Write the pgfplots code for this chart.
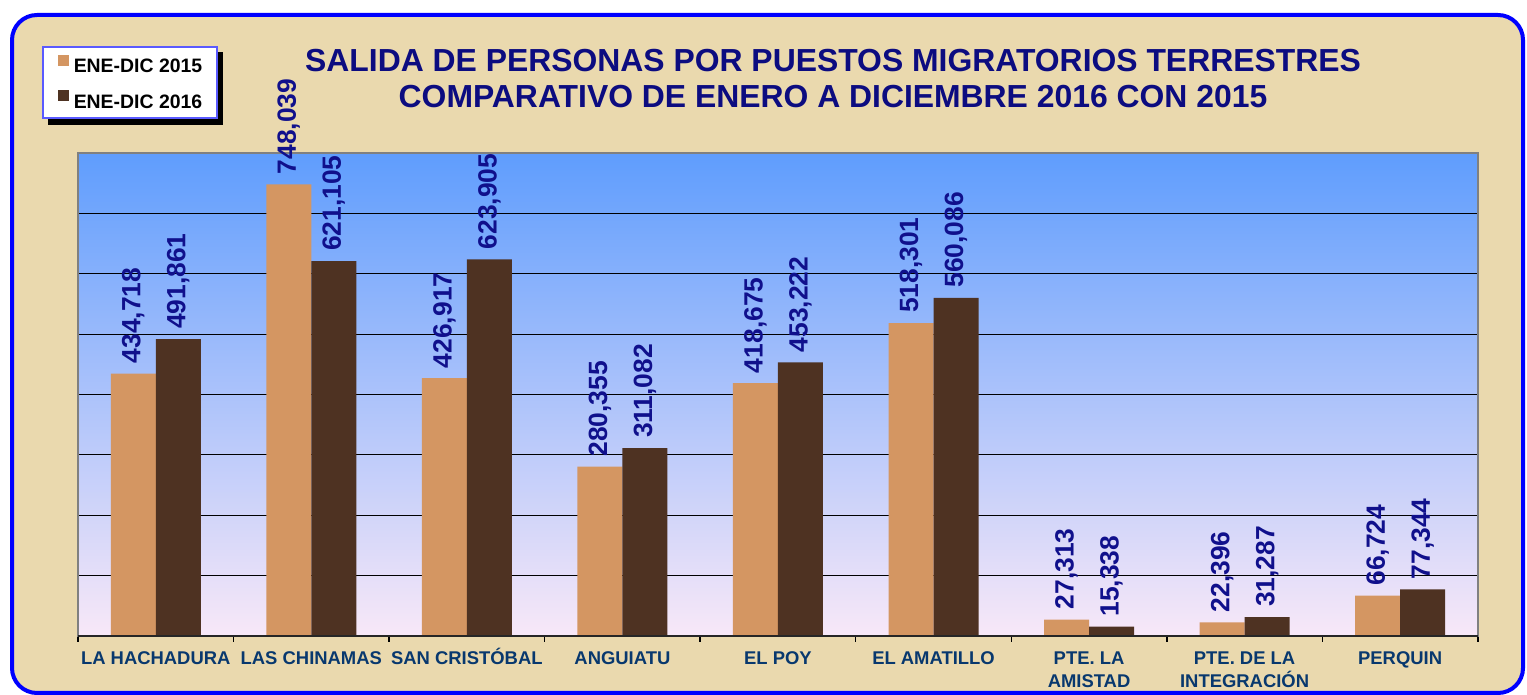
\documentclass[border=0pt]{standalone}
\usepackage{fontspec}
\setmainfont{Liberation Sans}
\usepackage{pgfplots}
\pgfplotsset{compat=1.18}
\definecolor{beige}{RGB}{234,217,174}
\definecolor{frameblue}{RGB}{0,0,255}
\definecolor{titlenavy}{RGB}{12,12,128}
\definecolor{labnavy}{RGB}{16,16,140}
\definecolor{tickblue}{RGB}{8,56,110}
\definecolor{woodlight}{RGB}{212,150,98}
\definecolor{wooddark}{RGB}{78,50,34}
\definecolor{bgtop}{RGB}{95,157,253}
\definecolor{bgmid}{RGB}{165,203,248}
\definecolor{bgbot}{RGB}{248,232,248}
\definecolor{legblue}{RGB}{90,90,255}
\begin{document}
\begin{tikzpicture}
\useasboundingbox (0,0) rectangle (1527bp,695bp);
\fill[white] (0,0) rectangle (1527bp,695bp);
\draw[frameblue, line width=4bp, rounded corners=25bp, fill=beige] (12bp,2bp) rectangle (1523bp,680bp);
\fill[black] (48bp,570bp) rectangle (223bp,643bp);
\node[anchor=base, text=titlenavy, font=\fontsize{32}{32}\selectfont\bfseries, inner sep=0pt] at (833bp,623bp) {SALIDA DE PERSONAS POR PUESTOS MIGRATORIOS TERRESTRES};
\node[anchor=base, text=titlenavy, font=\fontsize{32}{32}\selectfont\bfseries, inner sep=0pt] at (833bp,587bp) {COMPARATIVO DE ENERO A DICIEMBRE 2016 CON 2015};
\begin{axis}[
  at={(78bp,59bp)}, anchor=south west,
  scale only axis, width=1400bp, height=483bp,
  xmin=-0.5, xmax=8.5, ymin=0, ymax=800000,
  enlargelimits=false, clip=false,
  ybar=0pt, bar width=45bp,
  axis background/.style={shade, top color=bgtop, middle color=bgmid, bottom color=bgbot},
  axis line style={draw=gray, line width=2bp},
  scaled y ticks=false,
  ytick={100000,200000,300000,400000,500000,600000,700000},
  yticklabels={},
  ymajorgrids, grid style={black, line width=1bp},
  ytick style={draw=none},
  xtick={0,1,2,3,4,5,6,7,8},
  xtick pos=left,
  xticklabels={LA HACHADURA, LAS CHINAMAS, SAN CRIST\smash{Ó}BAL, ANGUIATU, EL POY, EL AMATILLO, {PTE. LA\\AMISTAD}, {PTE. DE LA\\INTEGRACIÓN}, PERQUIN},
  xticklabel style={align=center, text=tickblue, font=\fontsize{18.5}{23}\selectfont\bfseries, inner sep=0pt, yshift=-11bp},
  major x tick style={draw=none},
  minor xtick={-0.5,0.5,1.5,2.5,3.5,4.5,5.5,6.5,7.5,8.5},
  minor tick length=6bp, tick align=outside,
  minor x tick style={black, line width=1.5bp},
  point meta=explicit symbolic,
  nodes near coords,
  nodes near coords style={rotate=90, anchor=west, inner xsep=10bp, inner ysep=0pt, text=labnavy, font=\fontsize{26.5}{26.5}\selectfont\bfseries},
  legend style={at={(rel axis cs:-0.02571,1.22153)}, anchor=north west, draw=legblue, line width=1.5bp, fill=white,
    font=\fontsize{19.5}{19.5}\selectfont\bfseries, text=black, inner xsep=15bp, inner ysep=8bp, row sep=16bp,
    nodes={inner sep=0pt},
    /tikz/every odd column/.append style={column sep=5bp}},
  legend cell align=left,
  legend image code/.code={\fill[#1, draw=none] (0bp,1bp) rectangle (11bp,12bp);},
]
\addplot[fill=woodlight, draw=none] coordinates {
 (0,434718) [{434,718}]
 (1,748039) [{748,039}]
 (2,426917) [{426,917}]
 (3,280355) [{280,355}]
 (4,418675) [{418,675}]
 (5,518301) [{518,301}]
 (6,27313) [{27,313}]
 (7,22396) [{22,396}]
 (8,66724) [{66,724}]
};
\addplot[fill=wooddark, draw=none] coordinates {
 (0,491861) [{491,861}]
 (1,621105) [{621,105}]
 (2,623905) [{623,905}]
 (3,311082) [{311,082}]
 (4,453222) [{453,222}]
 (5,560086) [{560,086}]
 (6,15338) [{15,338}]
 (7,31287) [{31,287}]
 (8,77344) [{77,344}]
};
\legend{ENE-DIC 2015, ENE-DIC 2016}
\draw[black!85, line width=1.5bp] (rel axis cs:0,0) -- (rel axis cs:1,0);
\end{axis}
\end{tikzpicture}
\end{document}
